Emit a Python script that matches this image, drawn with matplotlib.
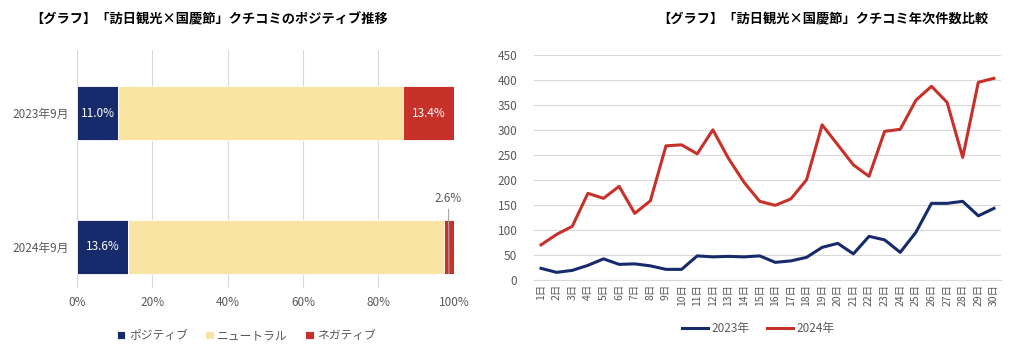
import numpy as np
import matplotlib.pyplot as plt

plt.rcParams['font.family'] = ['Noto Sans CJK JP', 'DejaVu Sans']

# Left chart: sentiment share (%)
periods = ["2024年9月", "2023年9月"]
positive = [13.6, 11.0]
neutral = [83.8, 75.6]
negative = [2.6, 13.4]

# Right chart: daily review counts
days = [f"{d}日" for d in range(1, 31)]
count_2023 = [23, 15, 19, 29, 42, 31, 32, 28, 21, 21, 48, 46, 47, 46, 48,
              35, 38, 45, 65, 73, 52, 87, 80, 55, 95, 153, 153, 157, 128, 143]
count_2024 = [70, 91, 107, 173, 163, 187, 133, 158, 268, 270, 252, 300, 243, 195, 157,
              149, 162, 200, 310, 270, 230, 207, 297, 301, 359, 387, 355, 245, 395, 403]

NAVY = "#172a6b"
CREAM = "#f9e4a4"
RED = "#c8312a"
GRID = "#d9d9d9"
TXT = "#595959"

fig = plt.figure(figsize=(10.24, 3.63), dpi=100)

# ---- left: stacked horizontal bars
ax1 = fig.add_axes([0.0752, 0.207, 0.368, 0.655])
y = np.arange(len(periods))
ax1.barh(y, positive, height=0.4, color=NAVY, edgecolor="white", linewidth=0.6, label="ポジティブ")
ax1.barh(y, neutral, left=positive, height=0.4, color=CREAM, edgecolor="white", linewidth=0.6, label="ニュートラル")
left_neg = np.array(positive) + np.array(neutral)
ax1.barh(y, negative, left=left_neg, height=0.4, color=RED, edgecolor="white", linewidth=0.6, label="ネガティブ")

for i in range(len(periods)):
    ax1.text(positive[i] / 2, y[i], f"{positive[i]:.1f}%", color="white",
             ha="center", va="center", fontsize=8.5)
    if negative[i] > 5:
        ax1.text(left_neg[i] + negative[i] / 2, y[i], f"{negative[i]:.1f}%", color="white",
                 ha="center", va="center", fontsize=8.5)
    else:
        # small slice: label above the bar with a leader line
        xm = left_neg[i] + negative[i] / 2
        ax1.plot([xm - 0.1, xm], [y[i] + 0.28, y[i] - 0.2], color="#a6a6a6", lw=0.8)
        ax1.text(xm - 0.3, y[i] + 0.31, f"{negative[i]:.1f}%", color=TXT,
                 ha="center", va="bottom", fontsize=8.5)

ax1.set_xlim(0, 100)
ax1.set_ylim(-0.306, 1.47)
ax1.set_xticks(range(0, 101, 20))
ax1.set_xticklabels([f"{v}%" for v in range(0, 101, 20)])
ax1.set_yticks(y)
ax1.set_yticklabels(periods)
ax1.tick_params(length=0, labelsize=8.5, labelcolor=TXT, pad=6)
ax1.grid(axis="x", color=GRID, lw=0.8)
ax1.set_axisbelow(True)
for s in ax1.spines.values():
    s.set_visible(False)
ax1.legend(loc="upper center", bbox_to_anchor=(0.45, -0.13), ncol=3, frameon=False,
           fontsize=8.5, handlelength=0.7, handleheight=0.7, columnspacing=1.5,
           handletextpad=0.3, labelcolor=TXT)

fig.text(0.204, 0.945, "【グラフ】「訪日観光×国慶節」クチコミのポジティブ推移",
         ha="center", va="center", fontsize=9.5, fontweight="bold")

# ---- right: line chart
ax2 = fig.add_axes([0.5215, 0.229, 0.456, 0.62])
x = np.arange(1, len(days) + 1)
ax2.plot(x, count_2023, color=NAVY, lw=2.2, label="2023年")
ax2.plot(x, count_2024, color=RED, lw=2.2, label="2024年")
ax2.set_xlim(0.55, 30.45)
ax2.set_ylim(0, 450)
ax2.set_yticks(range(0, 451, 50))
ax2.set_xticks(x)
ax2.set_xticklabels(days, rotation=90)
ax2.tick_params(axis="x", length=0, labelsize=7.5, labelcolor=TXT, pad=3)
ax2.tick_params(axis="y", length=0, labelsize=8.5, labelcolor=TXT, pad=12)
ax2.grid(axis="y", color=GRID, lw=0.8)
ax2.set_axisbelow(True)
for s in ax2.spines.values():
    s.set_visible(False)
ax2.spines["bottom"].set_visible(True)
ax2.spines["bottom"].set_color(GRID)
ax2.legend(loc="upper center", bbox_to_anchor=(0.48, -0.14), ncol=2, frameon=False,
           fontsize=8.5, handlelength=2.2, columnspacing=1.5, handletextpad=0.3,
           labelcolor=TXT)

fig.text(0.804, 0.945, "【グラフ】「訪日観光×国慶節」クチコミ年次件数比較",
         ha="center", va="center", fontsize=9.5, fontweight="bold")

fig.savefig("out.png", dpi=100, facecolor="white")
